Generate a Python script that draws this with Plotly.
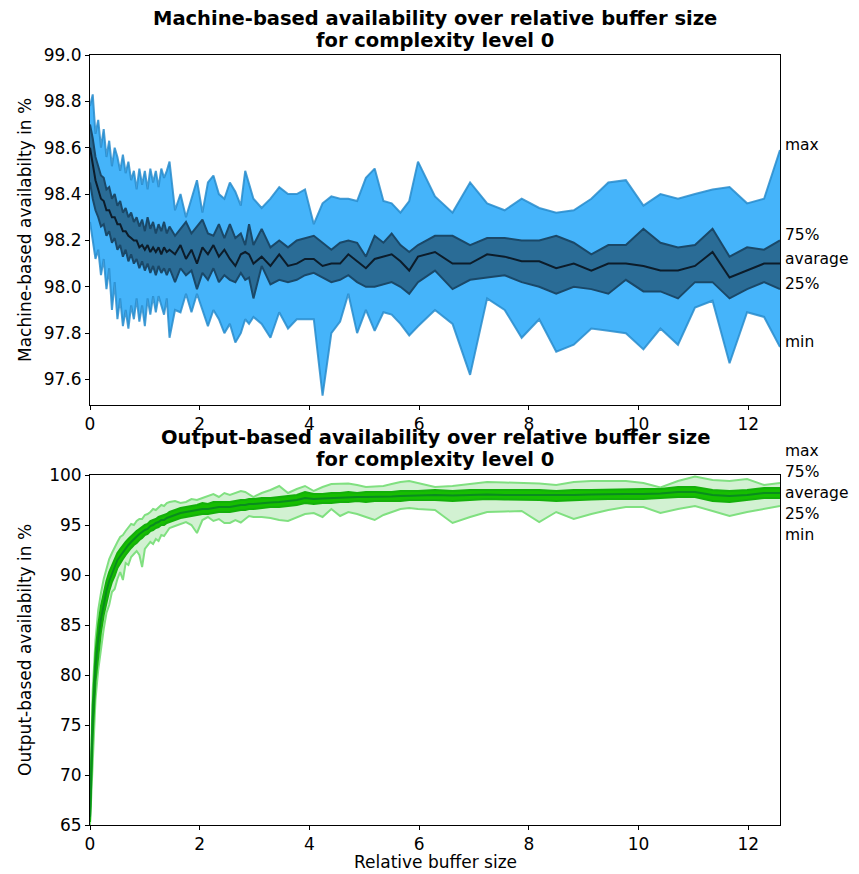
import plotly.graph_objects as go
from plotly.subplots import make_subplots

# Relative buffer size (shared x values)
buffer_size = [
    0.00, 0.05, 0.10, 0.15, 0.20, 0.25, 0.30, 0.35, 0.40, 0.45,
    0.50, 0.55, 0.60, 0.65, 0.70, 0.75, 0.80, 0.85, 0.90, 0.95,
    1.00, 1.05, 1.10, 1.15, 1.20, 1.25, 1.30, 1.35, 1.40, 1.45,
    1.55, 1.65, 1.75, 1.85, 1.95, 2.05, 2.15, 2.25, 2.35, 2.45, 2.55,
    2.65, 2.75, 2.83, 2.90, 2.98, 3.13, 3.29, 3.45, 3.61, 3.77, 3.92, 4.08,
    4.24, 4.40, 4.56, 4.71, 4.87, 5.03, 5.19, 5.35, 5.50, 5.66, 5.82, 5.98,
    6.29, 6.61, 6.93, 7.24, 7.56, 7.87, 8.19, 8.50, 8.82, 9.14, 9.45,
    9.77, 10.09, 10.40, 10.72, 11.03, 11.35, 11.66, 11.98, 12.29, 12.58,
]

# Machine-based availability (%)
machine_max = [
    98.78, 98.83, 98.66, 98.72, 98.60, 98.68, 98.56, 98.63, 98.52, 98.60,
    98.56, 98.50, 98.57, 98.49, 98.54, 98.46, 98.50, 98.42, 98.51, 98.44,
    98.50, 98.42, 98.51, 98.45, 98.50, 98.43, 98.51, 98.47, 98.50, 98.54,
    98.33, 98.40, 98.30, 98.38, 98.46, 98.32, 98.45, 98.48, 98.40, 98.38, 98.45,
    98.41, 98.35, 98.50, 98.44, 98.38, 98.34, 98.38, 98.43, 98.40, 98.40, 98.42, 98.27,
    98.36, 98.39, 98.38, 98.38, 98.37, 98.47, 98.51, 98.37, 98.36, 98.32, 98.37, 98.54,
    98.39, 98.32, 98.45, 98.36, 98.33, 98.38, 98.34, 98.32, 98.33, 98.38, 98.45,
    98.46, 98.35, 98.40, 98.38, 98.40, 98.42, 98.43, 98.36, 98.38, 98.59,
]
machine_p75 = [
    98.70, 98.64, 98.56, 98.52, 98.48, 98.47, 98.42, 98.43, 98.38, 98.40,
    98.35, 98.37, 98.32, 98.34, 98.30, 98.32, 98.28, 98.30, 98.26, 98.29,
    98.24, 98.30, 98.25, 98.28, 98.23, 98.27, 98.24, 98.28, 98.23, 98.26,
    98.22, 98.25, 98.28, 98.23, 98.26, 98.29, 98.23, 98.22, 98.27, 98.21, 98.27,
    98.21, 98.23, 98.18, 98.27, 98.18, 98.25, 98.17, 98.20, 98.17, 98.20, 98.21, 98.22,
    98.19, 98.16, 98.19, 98.20, 98.19, 98.13, 98.22, 98.19, 98.23, 98.18, 98.15, 98.18,
    98.22, 98.22, 98.18, 98.21, 98.21, 98.20, 98.20, 98.22, 98.19, 98.14, 98.18,
    98.18, 98.25, 98.19, 98.17, 98.18, 98.25, 98.13, 98.17, 98.16, 98.20,
]
machine_avg = [
    98.60, 98.52, 98.46, 98.42, 98.38, 98.37, 98.33, 98.33, 98.30, 98.30,
    98.27, 98.27, 98.24, 98.24, 98.22, 98.21, 98.20, 98.20, 98.17, 98.18,
    98.16, 98.18, 98.15, 98.17, 98.15, 98.17, 98.14, 98.17, 98.15, 98.16,
    98.14, 98.18, 98.12, 98.16, 98.10, 98.17, 98.14, 98.18, 98.13, 98.16, 98.12,
    98.09, 98.14, 98.15, 98.14, 98.10, 98.13, 98.09, 98.14, 98.09, 98.10, 98.12, 98.12,
    98.09, 98.10, 98.10, 98.14, 98.11, 98.08, 98.12, 98.13, 98.14, 98.11, 98.07, 98.13,
    98.15, 98.10, 98.10, 98.14, 98.13, 98.11, 98.11, 98.08, 98.10, 98.07, 98.10,
    98.10, 98.09, 98.07, 98.07, 98.09, 98.15, 98.04, 98.07, 98.10, 98.10,
]
machine_p25 = [
    98.45, 98.38, 98.33, 98.30, 98.26, 98.27, 98.22, 98.24, 98.19, 98.21,
    98.16, 98.18, 98.13, 98.16, 98.11, 98.14, 98.10, 98.12, 98.08, 98.11,
    98.07, 98.10, 98.06, 98.09, 98.05, 98.09, 98.06, 98.08, 98.05, 98.08,
    98.02, 98.08, 98.05, 98.07, 97.99, 98.06, 98.03, 98.08, 98.02, 98.05, 98.03,
    98.02, 98.06, 98.03, 98.04, 97.95, 98.09, 98.01, 98.03, 98.02, 98.03, 98.05, 98.06,
    98.04, 98.02, 98.03, 98.05, 98.02, 98.00, 98.00, 98.01, 98.02, 98.00, 97.97, 98.02,
    98.07, 97.99, 98.03, 98.04, 98.05, 98.02, 98.00, 97.97, 98.00, 97.99, 97.97,
    98.03, 97.98, 97.98, 97.95, 98.02, 98.02, 97.95, 97.99, 98.02, 97.99,
]
machine_min = [
    98.28, 98.20, 98.12, 98.16, 98.05, 98.12, 97.99, 98.08, 97.90, 98.02,
    97.86, 97.95, 97.83, 97.90, 97.82, 97.92, 97.86, 97.95, 97.85, 97.92,
    97.83, 97.95, 97.88, 97.96, 97.89, 97.96, 97.92, 97.88, 97.95, 97.78,
    97.90, 97.89, 97.97, 97.89, 97.97, 97.90, 97.83, 97.90, 97.86, 97.80, 97.84,
    97.76, 97.80, 97.86, 97.84, 97.87, 97.84, 97.78, 97.89, 97.82, 97.86, 97.86, 97.86,
    97.53, 97.80, 97.85, 97.97, 97.80, 97.90, 97.81, 97.89, 97.88, 97.84, 97.79, 97.83,
    97.90, 97.84, 97.62, 97.95, 97.90, 97.78, 97.86, 97.72, 97.75, 97.82, 97.81,
    97.80, 97.73, 97.82, 97.75, 97.91, 97.94, 97.67, 97.89, 97.87, 97.74,
]

# Output-based availability (%)
output_max = [
    67.0, 78.5, 83.5, 86.5, 88.2, 89.6, 90.6, 91.6, 92.2, 92.8,
    93.3, 93.8, 94.0, 94.4, 94.7, 95.1, 95.0, 95.4, 95.6, 95.6,
    96.0, 96.1, 96.3, 96.6, 96.5, 96.8, 97.0, 96.9, 97.2, 97.3,
    97.4, 97.2, 97.3, 97.6, 97.5, 97.7, 97.9, 98.1, 97.8, 98.2, 98.0,
    98.2, 98.4, 98.3, 98.1, 97.8, 98.2, 98.5, 98.9, 98.2, 98.6, 98.9, 98.4,
    98.8, 99.1, 99.1, 99.15, 99.0, 98.8, 98.85, 98.9, 99.1, 99.3, 99.4, 99.2,
    98.8, 98.9, 99.1, 99.3, 99.25, 99.2, 99.15, 99.0, 99.3, 99.4, 99.4,
    99.4, 99.2, 98.75, 99.4, 99.85, 99.5, 99.4, 99.6, 99.0, 99.2,
]
output_p75 = [
    66.5, 77.0, 82.2, 85.0, 86.9, 88.3, 89.4, 90.3, 91.0, 91.6,
    92.2, 92.6, 93.0, 93.3, 93.6, 93.9, 94.1, 94.4, 94.6, 94.8,
    95.0, 95.1, 95.4, 95.5, 95.6, 95.8, 95.9, 96.0, 96.1, 96.3,
    96.5, 96.7, 96.8, 96.9, 97.0, 97.2, 97.1, 97.3, 97.3, 97.3, 97.3,
    97.4, 97.5, 97.5, 97.6, 97.6, 97.7, 97.7, 97.8, 97.9, 98.0, 98.3, 98.1,
    98.1, 98.2, 98.2, 98.3, 98.2, 98.3, 98.3, 98.3, 98.3, 98.4, 98.4, 98.4,
    98.5, 98.4, 98.5, 98.5, 98.45, 98.45, 98.5, 98.4, 98.5, 98.5, 98.55,
    98.6, 98.6, 98.6, 98.8, 98.8, 98.5, 98.4, 98.5, 98.7, 98.7,
]
output_avg = [
    65.8, 75.5, 80.8, 83.6, 85.6, 87.2, 88.4, 89.4, 90.2, 90.8,
    91.5, 91.9, 92.3, 92.7, 93.0, 93.3, 93.6, 93.8, 94.1, 94.3,
    94.5, 94.6, 94.9, 95.0, 95.2, 95.3, 95.5, 95.5, 95.7, 95.8,
    96.0, 96.2, 96.3, 96.4, 96.5, 96.6, 96.6, 96.7, 96.8, 96.8, 96.8,
    96.9, 97.0, 97.0, 97.1, 97.1, 97.2, 97.25, 97.3, 97.4, 97.5, 97.7, 97.6,
    97.65, 97.7, 97.75, 97.8, 97.8, 97.8, 97.8, 97.85, 97.85, 97.9, 97.9, 97.95,
    98.0, 97.95, 98.0, 98.05, 98.0, 98.0, 98.0, 97.95, 98.0, 98.05, 98.1,
    98.1, 98.1, 98.15, 98.3, 98.3, 98.0, 97.9, 98.0, 98.2, 98.2,
]
output_p25 = [
    65.3, 74.0, 79.3, 82.2, 84.3, 86.0, 87.3, 88.4, 89.3, 89.9,
    90.7, 91.2, 91.6, 92.0, 92.4, 92.7, 93.0, 93.2, 93.5, 93.7,
    94.0, 94.1, 94.4, 94.5, 94.7, 94.8, 95.0, 95.0, 95.2, 95.3,
    95.5, 95.7, 95.8, 95.9, 96.0, 96.1, 96.1, 96.2, 96.3, 96.3, 96.3,
    96.4, 96.5, 96.5, 96.6, 96.6, 96.7, 96.8, 96.8, 96.9, 97.0, 97.2, 97.1,
    97.2, 97.2, 97.3, 97.3, 97.4, 97.3, 97.4, 97.4, 97.4, 97.4, 97.5, 97.5,
    97.5, 97.4, 97.5, 97.6, 97.55, 97.55, 97.5, 97.4, 97.5, 97.55, 97.6,
    97.6, 97.6, 97.7, 97.8, 97.8, 97.4, 97.3, 97.5, 97.7, 97.7,
]
output_min = [
    65.0, 72.0, 77.5, 80.5, 82.8, 84.6, 86.2, 87.0, 88.3, 88.6,
    89.6, 90.3, 89.5, 91.2, 91.0, 91.8, 92.1, 92.4, 92.0, 90.8,
    92.6, 92.9, 93.3, 93.1, 93.6, 93.4, 94.0, 93.9, 94.3, 94.7,
    94.9, 95.1, 95.3, 95.0, 94.2, 95.5, 95.8, 95.4, 95.6, 95.2, 95.2,
    95.5, 95.25, 95.6, 95.9, 95.8, 95.8, 95.7, 95.5, 95.4, 95.8, 96.1, 96.2,
    95.8, 96.6, 95.9, 96.3, 96.1, 95.8, 95.5, 96.0, 96.3, 96.6, 96.7, 96.6,
    96.5, 95.2, 95.8, 96.3, 96.35, 96.4, 95.3, 96.3, 95.6, 96.1, 96.5,
    96.8, 96.8, 96.2, 96.6, 96.9, 96.4, 95.9, 96.3, 96.6, 96.9,
]

machine_ticks = [97.6, 97.8, 98.0, 98.2, 98.4, 98.6, 98.8, 99.0]
output_ticks = [65, 70, 75, 80, 85, 90, 95, 100]
x_ticks = [0, 2, 4, 6, 8, 10, 12]

FONT = "DejaVu Sans"
FS = 17

fig = make_subplots(rows=2, cols=1, vertical_spacing=70 / 770)

def add_band(row, lo, hi, p25, p75, avg, c):
    fig.add_trace(go.Scatter(x=buffer_size, y=lo, mode="lines",
                             line=dict(color=c["edge"], width=2), hoverinfo="skip"), row=row, col=1)
    fig.add_trace(go.Scatter(x=buffer_size, y=hi, mode="lines", fill="tonexty",
                             fillcolor=c["fill"], line=dict(color=c["edge"], width=2),
                             hoverinfo="skip"), row=row, col=1)
    fig.add_trace(go.Scatter(x=buffer_size, y=p25, mode="lines",
                             line=dict(color=c["bedge"], width=2), hoverinfo="skip"), row=row, col=1)
    fig.add_trace(go.Scatter(x=buffer_size, y=p75, mode="lines", fill="tonexty",
                             fillcolor=c["bfill"], line=dict(color=c["bedge"], width=2),
                             hoverinfo="skip"), row=row, col=1)
    fig.add_trace(go.Scatter(x=buffer_size, y=avg, mode="lines",
                             line=dict(color=c["avg"], width=2), hoverinfo="skip"), row=row, col=1)

blue = dict(fill="rgb(69,180,250)", edge="rgba(40,140,205,0.85)",
            bfill="rgb(42,108,150)", bedge="rgb(26,72,104)", avg="rgb(12,28,42)")
green = dict(fill="rgb(210,241,210)", edge="rgb(128,224,128)",
             bfill="rgb(22,190,0)", bedge="rgb(20,175,10)", avg="rgb(10,140,30)")

add_band(1, machine_min, machine_max, machine_p25, machine_p75, machine_avg, blue)
add_band(2, output_min, output_max, output_p25, output_p75, output_avg, green)

axis_common = dict(showline=True, linecolor="black", linewidth=1, mirror=True,
                   ticks="outside", ticklen=4, tickcolor="black", showgrid=False,
                   zeroline=False, automargin=False,
                   tickfont=dict(family=FONT, size=FS, color="black"))

fig.update_xaxes(range=[0, buffer_size[-1]], tickvals=x_ticks, **axis_common)
fig.update_yaxes(range=[97.49, 99.0], tickvals=machine_ticks, tickformat=".1f", row=1, col=1, **axis_common)
fig.update_yaxes(range=[65, 100], tickvals=output_ticks, row=2, col=1, **axis_common)

txt = dict(family=FONT, size=FS, color="black")
lbl = dict(family=FONT, size=15.5, color="black")
ann = []
titles = [("x domain", "y domain", "Machine-based availability over relative buffer size"),
          ("x2 domain", "y2 domain", "Output-based availability over relative buffer size")]
for xr, yr, t in titles:
    ann.append(dict(xref=xr, yref=yr, x=0.5, y=1, yanchor="middle", xanchor="center", yshift=37,
                    text="<b>" + t + "</b>", showarrow=False,
                    font=dict(family=FONT, size=19.5, color="black")))
    ann.append(dict(xref=xr, yref=yr, x=0.5, y=1, yanchor="middle", xanchor="center", yshift=15,
                    text="<b>for complexity level 0</b>", showarrow=False,
                    font=dict(family=FONT, size=19.5, color="black")))

# axis titles
ann.append(dict(xref="x domain", yref="y domain", x=0, y=0.5, xshift=-65, textangle=-90,
                xanchor="center", yanchor="middle", showarrow=False,
                text="Machine-based availabilty in %", font=txt))
ann.append(dict(xref="x2 domain", yref="y2 domain", x=0, y=0.5, xshift=-65, textangle=-90,
                xanchor="center", yanchor="middle", showarrow=False,
                text="Output-based availabilty in %", font=txt))
ann.append(dict(xref="x2 domain", yref="y2 domain", x=0.5, y=0, yshift=-37,
                xanchor="center", yanchor="middle", showarrow=False,
                text="Relative buffer size", font=txt))

top_labels = [("max", machine_max[-1]), ("75%", machine_p75[-1]), ("avarage", machine_avg[-1]),
              ("25%", machine_p25[-1]), ("min", machine_min[-1])]
for t, v in top_labels:
    ann.append(dict(xref="x domain", yref="y", x=1, y=v, xanchor="left", yanchor="middle", xshift=3,
                    yshift=5, text=t, showarrow=False, font=lbl))

bottom_labels = ["max", "75%", "average", "25%", "min"]
for i, t in enumerate(bottom_labels):
    ann.append(dict(xref="x2 domain", yref="y2", x=1, y=output_avg[-1], xanchor="left", yanchor="middle",
                    xshift=3, yshift=(2 - i) * 21, text=t, showarrow=False, font=lbl))

# page body has an 8px default margin: figure sized so the plot areas land where the reference has them
fig.update_layout(width=851, height=866, margin=dict(l=82, r=79, t=47, b=49, autoexpand=False),
                  plot_bgcolor="white", paper_bgcolor="white", showlegend=False,
                  font=txt, annotations=ann)

fig.write_html("out.html")
